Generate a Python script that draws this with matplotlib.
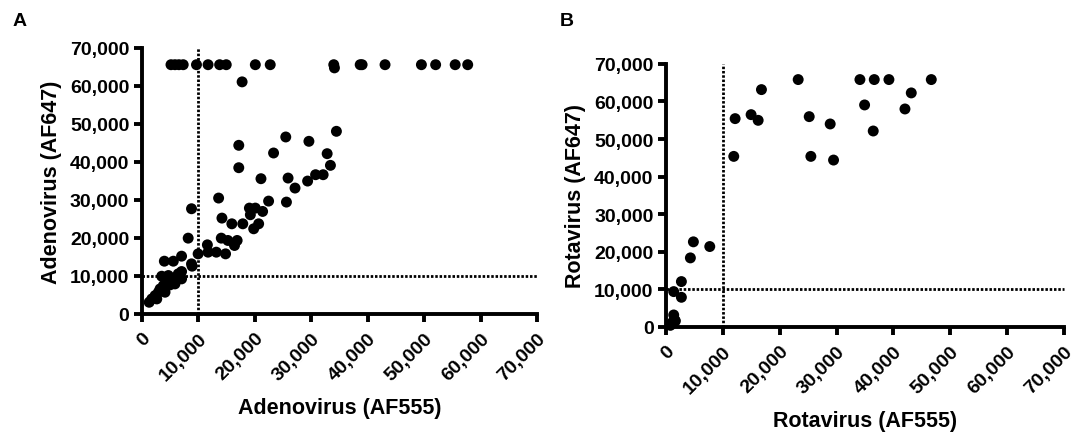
import matplotlib
matplotlib.use("Agg")
import matplotlib.pyplot as plt
from matplotlib.ticker import FuncFormatter

plt.rcParams["font.family"] = ["Liberation Sans", "DejaVu Sans"]
plt.rcParams["font.weight"] = "bold"

# Panel A: adenovirus, AF555 vs AF647
adeno_x = [5155, 5860, 6560, 7320, 9670, 11720, 13770, 14940, 20090, 22730,
           33980, 34100, 38660, 39000, 43060, 49500, 52020, 55480, 57700,
           17750, 34450, 25480, 29580, 17160, 23320, 32810, 33390, 17160, 21090,
           25890, 27120, 30760, 32100, 29350, 13590, 22440, 25600, 8790, 19040,
           20090, 19210, 21380, 14180, 15930, 17870, 20680, 19800, 8200, 14060,
           15230, 16870, 11600, 16400, 11720, 13180, 14820, 9960, 8790, 8900,
           7030, 3980, 5570, 7030, 7030, 5860, 3510, 4390, 4980, 3220, 2930,
           4100, 2340, 1760, 1290, 6440, 4690, 5270, 3810, 2640]
adeno_y = [65535, 65535, 65535, 65535, 65535, 65535, 65535, 65535, 65535, 65535,
           65535, 64700, 65535, 65535, 65535, 65535, 65535, 65535, 65535,
           61020, 48020, 46530, 45390, 44340, 42320, 42140, 39070, 38450, 35560,
           35730, 33100, 36610, 36610, 34940, 30470, 29670, 29410, 27660, 27830,
           27830, 26080, 26950, 25200, 23700, 23700, 23700, 22390, 19930, 19930,
           19320, 19320, 18170, 18000, 16240, 16240, 15800, 15800, 13170, 12560,
           15190, 13870, 13870, 11150, 9220, 7900, 9920, 9220, 7640, 6580, 5710,
           5710, 4830, 3950, 3070, 10540, 10100, 9220, 7460, 3950]

# Panel B: rotavirus, AF555 vs AF647
rota_x = [23240, 34100, 36620, 39200, 46650, 16780, 43130, 34920, 42020, 14960,
          16200, 12150, 25180, 28870, 36440, 11910, 25470, 29460, 4810, 7690,
          4280, 2700, 1350, 2700, 1350, 1530, 1060, 760, 1640]
rota_y = [65810, 65810, 65810, 65810, 65810, 63140, 62260, 59060, 57990, 56480,
          54970, 55420, 55950, 54000, 52130, 45380, 45380, 44400, 22650, 21400,
          18380, 12080, 9410, 7900, 3200, 1870, 1150, 440, 1600]

ticks = [0, 10000, 20000, 30000, 40000, 50000, 60000, 70000]
cutoff = 10000

fig = plt.figure(figsize=(10.83, 4.35), dpi=100)
ax_a = fig.add_axes([0.131, 0.276, 0.365, 0.612])
ax_b = fig.add_axes([0.615, 0.246, 0.3675, 0.605])

fmt = FuncFormatter(lambda v, p: f"{int(v):,}")


def style(ax, xs, ys, xlabel, ylabel):
    ax.scatter(xs, ys, s=62, color="black", edgecolors="none", clip_on=False, zorder=3)
    # cutoff lines at 10,000 on both channels
    ax.plot([cutoff, cutoff], [0, 70000], color="black", lw=2.0,
            ls=(0, (0.9, 0.65)), clip_on=False)
    ax.plot([0, 70000], [cutoff, cutoff], color="black", lw=2.0,
            ls=(0, (0.9, 0.65)), clip_on=False)
    ax.set_xlim(0, 70000)
    ax.set_ylim(0, 70000)
    ax.set_xticks(ticks)
    ax.set_yticks(ticks)
    ax.xaxis.set_major_formatter(fmt)
    ax.yaxis.set_major_formatter(fmt)
    for s in ("top", "right"):
        ax.spines[s].set_visible(False)
    for s in ("left", "bottom"):
        ax.spines[s].set_linewidth(2.8)
    ax.tick_params(width=2.8, length=6, labelsize=14)
    ax.tick_params(axis="y", pad=3)
    ax.tick_params(axis="x", pad=5)
    plt.setp(ax.get_xticklabels(), rotation=45, ha="right", rotation_mode="anchor",
             fontweight="bold")
    plt.setp(ax.get_yticklabels(), fontweight="bold")
    ax.set_xlabel(xlabel, fontsize=15.5, fontweight="bold", labelpad=10)
    ax.set_ylabel(ylabel, fontsize=15.5, fontweight="bold", labelpad=6)


style(ax_a, adeno_x, adeno_y, "Adenovirus (AF555)", "Adenovirus (AF647)")
style(ax_b, rota_x, rota_y, "Rotavirus (AF555)", "Rotavirus (AF647)")

fig.text(0.012, 0.95, "A", fontsize=14, fontweight="bold", va="center")
fig.text(0.517, 0.95, "B", fontsize=14, fontweight="bold", va="center")

fig.savefig("out.png", dpi=100)
